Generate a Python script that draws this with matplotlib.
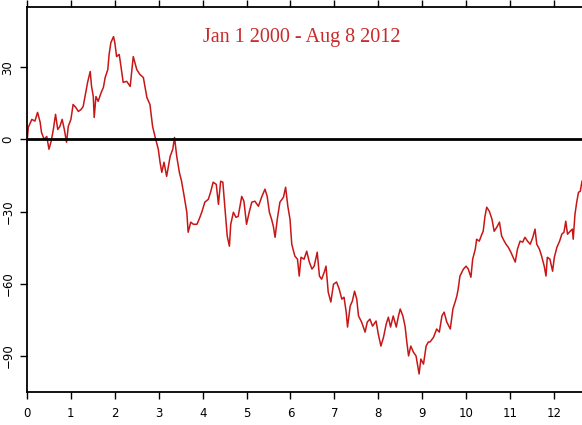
import matplotlib.pyplot as plt

# years since Jan 1 2000
years = [0.00, 0.03, 0.11, 0.18, 0.24, 0.30, 0.33, 0.39, 0.45, 0.50, 0.55, 0.60, 0.65, 0.70, 0.75, 0.80,
         0.85, 0.90, 0.94, 1.00, 1.05, 1.11, 1.17, 1.23, 1.28, 1.32, 1.38, 1.44, 1.47, 1.51, 1.53, 1.57,
         1.62, 1.69, 1.74, 1.78, 1.84, 1.87, 1.91, 1.97, 2.00, 2.04, 2.10, 2.14, 2.19, 2.27, 2.35, 2.42,
         2.50, 2.57, 2.65, 2.73, 2.80, 2.86, 2.92, 2.99, 3.03, 3.07, 3.12, 3.18, 3.26, 3.32, 3.36, 3.41,
         3.47, 3.52, 3.58, 3.64, 3.67, 3.73, 3.79, 3.87, 3.92, 3.98, 4.05, 4.13, 4.18, 4.24, 4.31, 4.36,
         4.41, 4.46, 4.51, 4.56, 4.61, 4.64, 4.70, 4.76, 4.81, 4.89, 4.94, 5.00, 5.06, 5.12, 5.19, 5.27,
         5.35, 5.42, 5.47, 5.52, 5.57, 5.61, 5.65, 5.70, 5.76, 5.84, 5.89, 5.94, 5.99, 6.03, 6.10, 6.16,
         6.20, 6.24, 6.31, 6.37, 6.43, 6.49, 6.54, 6.61, 6.66, 6.71, 6.77, 6.81, 6.86, 6.92, 6.98, 7.05,
         7.11, 7.17, 7.22, 7.27, 7.30, 7.36, 7.41, 7.46, 7.51, 7.55, 7.62, 7.70, 7.75, 7.81, 7.87, 7.95,
         8.00, 8.06, 8.12, 8.18, 8.23, 8.28, 8.34, 8.41, 8.46, 8.50, 8.56, 8.61, 8.65, 8.69, 8.74, 8.80,
         8.86, 8.90, 8.93, 8.97, 9.03, 9.09, 9.14, 9.18, 9.26, 9.33, 9.39, 9.45, 9.50, 9.56, 9.64, 9.70,
         9.75, 9.79, 9.82, 9.86, 9.94, 10.00, 10.05, 10.11, 10.15, 10.21, 10.24, 10.30, 10.36, 10.39, 10.43, 10.47,
         10.53, 10.59, 10.64, 10.70, 10.76, 10.81, 10.87, 10.91, 10.96, 11.02, 11.06, 11.12, 11.17, 11.23, 11.29, 11.34,
         11.40, 11.46, 11.52, 11.57, 11.61, 11.67, 11.72, 11.78, 11.82, 11.85, 11.91, 11.97, 12.01, 12.07, 12.13, 12.18,
         12.23, 12.27, 12.31, 12.37, 12.42, 12.44, 12.48, 12.52, 12.56, 12.60, 12.64]

# cumulative value
values = [-1.2, 5.0, 8.3, 7.6, 11.2, 7.1, 2.9, 0.0, 1.2, -4.1, -0.8, 4.1, 10.4, 4.1, 5.4, 8.3,
          4.1, -1.2, 5.4, 8.3, 14.5, 13.3, 11.6, 12.4, 13.7, 17.8, 23.7, 28.2, 22.0, 17.8, 9.1, 17.8,
          15.8, 19.5, 21.6, 25.7, 29.0, 35.3, 40.2, 42.7, 40.2, 34.4, 35.3, 30.3, 23.7, 24.1, 22.0, 34.4,
          29.0, 27.0, 25.7, 17.4, 14.5, 5.4, 0.8, -4.1, -9.5, -13.7, -9.5, -15.4, -7.1, -4.1, 0.8, -7.1,
          -13.7, -17.4, -23.7, -30.3, -38.6, -34.4, -35.3, -35.3, -33.2, -30.3, -26.1, -24.9, -22.0, -17.8, -18.7, -27.0,
          -17.4, -17.8, -29.0, -40.2, -44.4, -35.3, -30.3, -32.4, -32.0, -23.7, -25.7, -35.3, -30.3, -26.1, -25.7, -27.8,
          -23.7, -20.7, -23.7, -30.3, -33.2, -36.1, -40.7, -33.2, -26.1, -24.1, -19.9, -27.8, -33.2, -43.6, -48.5, -49.8,
          -56.8, -49.0, -49.8, -46.5, -51.0, -53.9, -52.7, -46.9, -56.8, -58.1, -55.2, -52.7, -63.5, -67.6, -60.2, -59.3,
          -62.2, -66.4, -65.6, -71.8, -78.0, -69.3, -67.2, -63.1, -66.4, -73.4, -75.9, -80.1, -75.9, -74.7, -77.6, -75.5,
          -80.9, -85.9, -82.2, -76.8, -73.9, -78.0, -73.4, -78.0, -73.4, -70.5, -73.4, -77.6, -84.2, -90.0, -85.9, -88.4,
          -90.0, -94.2, -97.5, -91.3, -93.4, -85.9, -84.2, -84.2, -82.2, -78.8, -80.1, -73.4, -71.8, -75.9, -78.8, -70.5,
          -67.6, -65.1, -62.2, -56.8, -53.9, -52.7, -53.9, -57.3, -49.8, -45.6, -41.5, -42.3, -39.4, -38.2, -32.0, -28.2,
          -29.9, -33.2, -38.2, -36.5, -34.4, -40.2, -42.3, -43.6, -44.8, -46.9, -48.5, -51.0, -45.6, -42.3, -42.7, -40.7,
          -42.3, -43.6, -40.7, -37.3, -43.6, -45.6, -48.5, -52.7, -56.8, -49.0, -49.8, -54.8, -49.0, -44.8, -42.3, -39.4,
          -38.6, -34.0, -39.4, -38.2, -37.3, -41.5, -31.1, -26.1, -22.0, -21.6, -17.4]

xticks = list(range(0, 13))
yticks = [-90, -60, -30, 0, 30]

fig = plt.figure(figsize=(5.82, 4.25), dpi=100)
ax = fig.add_axes([0.0464, 0.0776, 0.9536, 0.9059])

ax.plot(years, values, color='#c81616', linewidth=1.1)
ax.axhline(0, color='black', linewidth=2)

ax.set_xlim(0, 12.64)
ax.set_ylim(-105, 55)

ax.spines['right'].set_visible(False)
for s in ['left', 'bottom', 'top']:
    ax.spines[s].set_linewidth(1.3)

ax.set_xticks(xticks)
ax.set_yticks(yticks)
ax.tick_params(axis='x', top=True, direction='out', length=5, width=1, labelsize=8.5, pad=6)
ax.tick_params(axis='y', direction='out', length=5, width=1, labelsize=8.5, pad=4)
for lab in ax.get_yticklabels():
    lab.set_rotation(90)
    lab.set_va('center')

ax.text(0.495, 0.92, 'Jan 1 2000 - Aug 8 2012', transform=ax.transAxes, ha='center', va='center',
        color='#cc2a2a', fontsize=14.5, family='Liberation Serif')

fig.savefig('out.png', dpi=100)
